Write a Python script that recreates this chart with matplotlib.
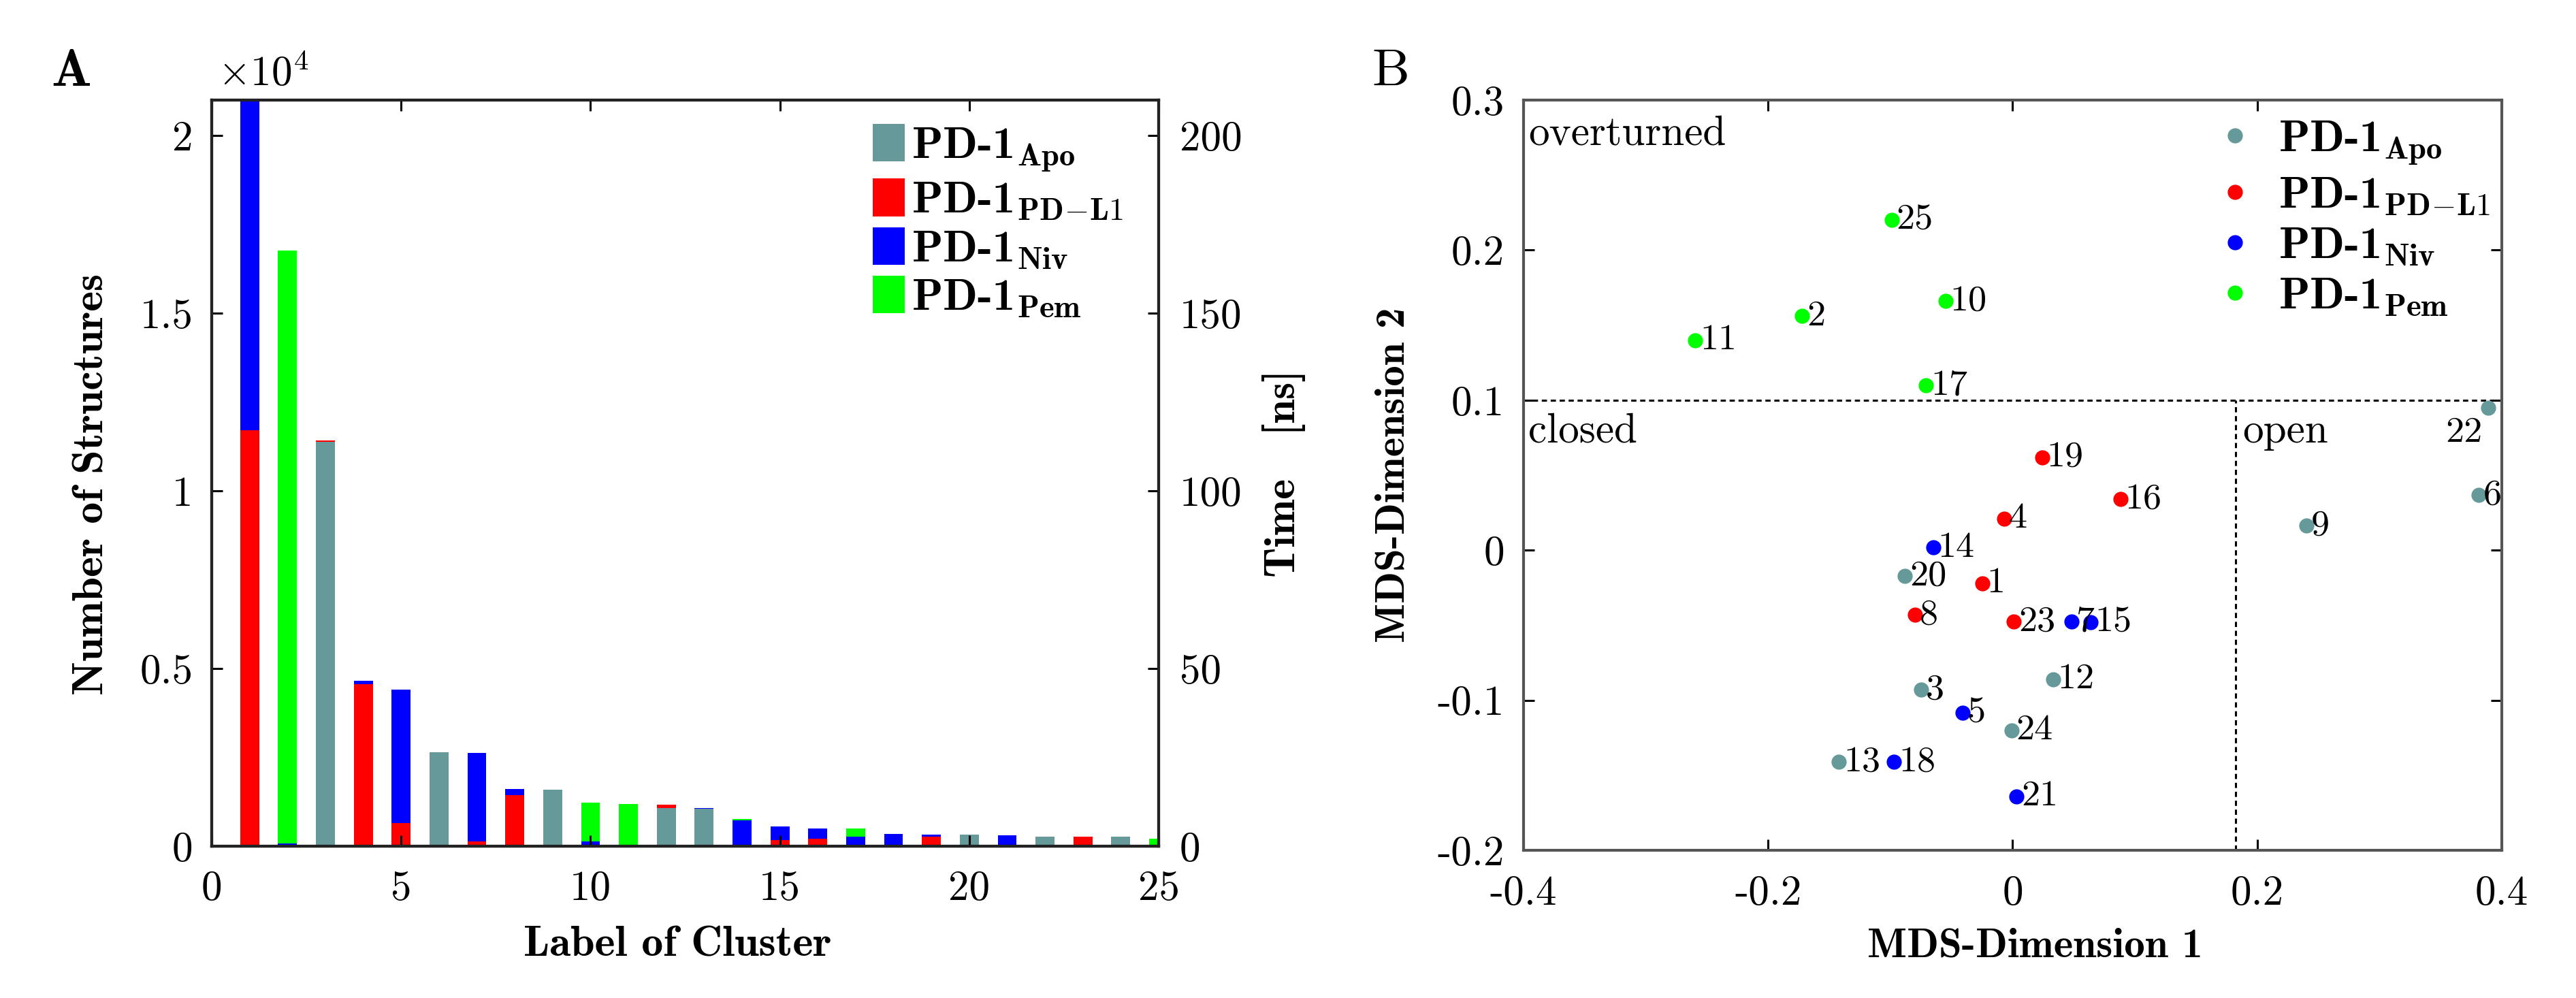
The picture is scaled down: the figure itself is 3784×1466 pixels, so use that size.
import matplotlib
matplotlib.use("Agg")
import matplotlib.pyplot as plt
import numpy as np

plt.rcParams['font.family'] = 'serif'
plt.rcParams['font.serif'] = ['cmr10']
plt.rcParams['mathtext.fontset'] = 'cm'
plt.rcParams['axes.formatter.use_mathtext'] = True

# ---- panel A data: number of structures per cluster (units of 1e4) ----
clusters = np.arange(1, 26)
apo = [0, 0, 1.138, 0, 0, 0.2645, 0, 0, 0.16, 0, 0, 0.107, 0.105, 0, 0,
       0, 0, 0, 0, 0.032, 0, 0.026, 0, 0.026, 0]
pdl1 = [1.17, 0, 0.004, 0.456, 0.066, 0, 0.013, 0.144, 0, 0, 0, 0.01, 0, 0, 0.017,
        0.021, 0, 0, 0.026, 0, 0, 0, 0.026, 0, 0]
niv = [0.95, 0.008, 0, 0.01, 0.374, 0, 0.25, 0.0175, 0, 0.013, 0, 0, 0.003, 0.073, 0.038,
       0.028, 0.027, 0.034, 0.007, 0, 0.031, 0, 0, 0, 0]
pem = [0, 1.668, 0, 0, 0, 0, 0, 0, 0, 0.109, 0.119, 0, 0, 0.004, 0,
       0, 0.022, 0, 0, 0, 0, 0, 0, 0, 0.021]

a_yticks = [0, 0.5, 1, 1.5, 2]
a_yticklabels = ['0', '0.5', '1', '1.5', '2']
t_ticks = [0, 50, 100, 150, 200]

# ---- panel B data: MDS coordinates of the cluster centres ----
apo_lab = [20, 3, 12, 24, 13, 9, 6, 22]
apo_x = [-0.088, -0.075, 0.033, -0.001, -0.142, 0.240, 0.381, 0.389]
apo_y = [-0.017, -0.093, -0.086, -0.120, -0.141, 0.0165, 0.037, 0.095]

pdl1_lab = [19, 16, 4, 1, 8, 23]
pdl1_x = [0.024, 0.088, -0.007, -0.025, -0.080, 0.001]
pdl1_y = [0.062, 0.034, 0.021, -0.022, -0.043, -0.0475]

niv_lab = [14, 7, 15, 5, 18, 21]
niv_x = [-0.065, 0.048, 0.0635, -0.041, -0.097, 0.0033]
niv_y = [0.0017, -0.0475, -0.048, -0.1085, -0.141, -0.164]

pem_lab = [25, 10, 2, 11, 17]
pem_x = [-0.099, -0.055, -0.172, -0.2595, -0.071]
pem_y = [0.220, 0.166, 0.156, 0.140, 0.110]

b_xticks = [-0.4, -0.2, 0, 0.2, 0.4]
b_xticklabels = ['-0.4', '-0.2', '0', '0.2', '0.4']
b_yticks = [-0.2, -0.1, 0, 0.1, 0.2, 0.3]
b_yticklabels = ['-0.2', '-0.1', '0', '0.1', '0.2', '0.3']

teal = '#669999'
cols = [teal, '#ff0000', '#0000ff', '#00ff00']
names = [r'PD-1$_{\mathbf{Apo}}$', r'PD-1$_{\mathbf{PD\!-\!L1}}$',
         r'PD-1$_{\mathbf{Niv}}$', r'PD-1$_{\mathbf{Pem}}$']

TICK = 22
LEG = 24
bold = 'cmb10'

fig = plt.figure(figsize=(18.92, 7.33), dpi=200)

# ================= panel A =================
axA = fig.add_axes([0.0822, 0.1521, 0.3676, 0.7476])
bottom = np.zeros(len(clusters))
for vals, c, n in zip([apo, pdl1, niv, pem], cols, names):
    axA.bar(clusters, vals, width=0.5, bottom=bottom, color=c, linewidth=0, label=n)
    bottom += np.array(vals)

axA.set_xlim(0, 25)
axA.set_ylim(0, 2.1)
axA.set_xticks([0, 5, 10, 15, 20, 25])
axA.set_xticklabels(['0', '5', '10', '15', '20', '25'])
axA.set_yticks(a_yticks)
axA.set_yticklabels(a_yticklabels)
axA.tick_params(direction='in', length=5.8, width=1.1, labelsize=TICK, top=True, right=False)
axA.tick_params(axis='x', pad=13)
axA.tick_params(axis='y', pad=10)
for s in axA.spines.values():
    s.set_linewidth(1.5)
    s.set_color('#222222')

axA.set_xlabel('Label of Cluster', fontfamily=bold, fontsize=23)
axA.set_ylabel('Number of Structures', fontfamily=bold, fontsize=23)
axA.xaxis.set_label_coords(0.4917, -0.107)
axA.yaxis.set_label_coords(-0.106, 0.485)
axA.text(0.0065, 1.019, r'$\times10^{4}$', transform=axA.transAxes, fontsize=TICK,
         ha='left', va='baseline')

# time axis: 1e4 structures <-> 100 ns
axT = axA.twinx()
axT.set_ylim(0, 210)
axT.set_yticks(t_ticks)
axT.set_yticklabels([str(t) for t in t_ticks])
axT.tick_params(direction='in', length=5.8, width=1.1, labelsize=TICK, pad=11)
axT.set_ylabel('Time   [ns]', fontfamily=bold, fontsize=23)
axT.yaxis.set_label_coords(1.109, 0.5)
for s in axT.spines.values():
    s.set_linewidth(1.5)
    s.set_color('#222222')

axA.legend(loc='upper left', bbox_to_anchor=(0.698, 0.968), frameon=False,
           prop={'family': bold, 'size': LEG}, borderpad=0, borderaxespad=0,
           handlelength=0.705, handleheight=0.9, handletextpad=0.15, labelspacing=0.11)

fig.text(0.0198, 0.914, 'A', fontfamily=bold, fontsize=28, ha='left', va='baseline')

# ================= panel B =================
axB = fig.add_axes([0.5914, 0.148, 0.3798, 0.7517])
axB.axhline(0.1, color='k', lw=1.1, ls=(0, (2.5, 1.8)))
axB.plot([0.1826, 0.1826], [-0.2, 0.1], color='k', lw=1.1, ls=(0, (2.5, 1.8)))

groups = [(apo_x, apo_y, apo_lab), (pdl1_x, pdl1_y, pdl1_lab),
          (niv_x, niv_y, niv_lab), (pem_x, pem_y, pem_lab)]
for (gx, gy, gl), c, n in zip(groups, cols, names):
    axB.plot(gx, gy, 'o', color=c, markersize=8, markeredgewidth=0, label=n)
    for xx, yy, ll in zip(gx, gy, gl):
        if ll == 22:
            # sits on the frame, so its label goes below-left
            axB.annotate(str(ll), (xx, yy), xytext=(-3.2, -13.3), textcoords='offset points',
                         ha='right', va='center', fontsize=19.5)
        else:
            axB.annotate(str(ll), (xx, yy), xytext=(2.5, 0), textcoords='offset points',
                         ha='left', va='center', fontsize=19.5)

axB.text(-0.396, 0.2705, 'overturned', fontsize=22, ha='left', va='baseline')
axB.text(-0.396, 0.0718, 'closed', fontsize=22, ha='left', va='baseline')
axB.text(0.188, 0.0718, 'open', fontsize=22, ha='left', va='baseline')

axB.set_xlim(-0.4, 0.4)
axB.set_ylim(-0.2, 0.3)
axB.set_xticks(b_xticks)
axB.set_xticklabels(b_xticklabels)
axB.set_yticks(b_yticks)
axB.set_yticklabels(b_yticklabels)
axB.tick_params(direction='in', length=5.8, width=1.1, labelsize=TICK, top=True, right=True)
axB.tick_params(axis='x', pad=13)
axB.tick_params(axis='y', pad=10)
for s in axB.spines.values():
    s.set_linewidth(1.5)
    s.set_color('#555555')

axB.set_xlabel('MDS-Dimension 1', fontfamily=bold, fontsize=22)
axB.set_ylabel('MDS-Dimension 2', fontfamily=bold, fontsize=22)
axB.xaxis.set_label_coords(0.523, -0.104)
axB.yaxis.set_label_coords(-0.114, 0.5)

axB.legend(loc='upper left', bbox_to_anchor=(0.7063, 0.974), frameon=False,
           prop={'family': bold, 'size': LEG}, borderpad=0, borderaxespad=0,
           handlelength=0.9, handletextpad=0.51, labelspacing=0.205)

fig.text(0.5325, 0.914, 'B', fontsize=28, ha='left', va='baseline')

fig.savefig('out.png', dpi=200)
